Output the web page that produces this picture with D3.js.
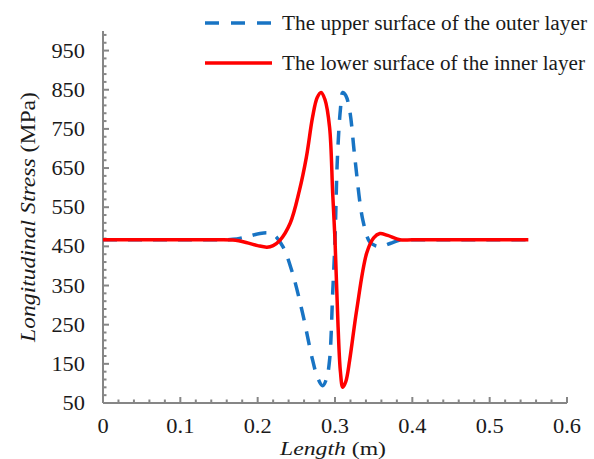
<!DOCTYPE html>
<html>
<head>
<meta charset="utf-8">
<script src="https://cdn.jsdelivr.net/npm/d3@7"></script>
<style>
  body { margin: 0; background: #fff; }
  svg { display: block; font-family: "Liberation Serif", "Times New Roman", serif; }
</style>
</head>
<body>
<div id="graph"></div>
<script>
// Length positions (m) and stress values (MPa)
const outerX = [0, 0.05, 0.10, 0.15, 0.168, 0.185, 0.203, 0.215, 0.222, 0.233, 0.245, 0.258, 0.271, 0.278, 0.284, 0.289, 0.293, 0.297, 0.300, 0.303, 0.307, 0.310, 0.314, 0.319, 0.326, 0.336, 0.345, 0.352, 0.360, 0.372, 0.384, 0.40, 0.45, 0.50, 0.55];
const outerY = [467, 467, 467, 467, 468, 474, 483, 484, 478, 448, 382, 280, 160, 112, 94, 112, 160, 330, 466, 670, 800, 843, 835, 797, 670, 517, 461, 452, 450, 458, 466, 467, 467, 467, 467];

const innerX = [0, 0.05, 0.10, 0.15, 0.168, 0.185, 0.200, 0.212, 0.220, 0.229, 0.242, 0.254, 0.263, 0.271, 0.277, 0.282, 0.287, 0.293, 0.297, 0.300, 0.304, 0.307, 0.310, 0.314, 0.319, 0.328, 0.341, 0.350, 0.358, 0.368, 0.384, 0.40, 0.45, 0.50, 0.55];
const innerY = [467, 467, 467, 467, 466, 460, 452, 448, 452, 466, 509, 593, 678, 780, 830, 843, 825, 754, 586, 466, 244, 130, 90, 105, 160, 287, 433, 472, 483, 478, 467, 467, 467, 467, 467];

const seriesNames = ["The upper surface of the outer layer", "The lower surface of the inner layer"];
const xTicks = [0, 0.1, 0.2, 0.3, 0.4, 0.5, 0.6];
const yTicks = [50, 150, 250, 350, 450, 550, 650, 750, 850, 950];

const W = 594, H = 459;
const axisColor = "#868686";
const textColor = "#1a1a1a";
const blue = "#1874c4", red = "#ff0000";
// text in the picture is a bit wider than the plain font
const stretch = 1.12;

const svg = d3.select("#graph").append("svg")
  .attr("width", W).attr("height", H);

const x = d3.scaleLinear().domain([0, 0.6]).range([103, 567]);
const y = d3.scaleLinear().domain([50, 1000]).range([403, 31]);

// widen a text node horizontally by setting its textLength
function widen(sel, len) {
  sel.each(function() {
    const l = len || this.getComputedTextLength() * stretch;
    d3.select(this).attr("textLength", l).attr("lengthAdjust", "spacingAndGlyphs");
  });
}

// Minor ticks (inside), x every 0.02, y every 20
const xMinor = d3.range(0, 0.6001, 0.02);
const yMinor = d3.range(50, 1000.1, 20);

const xAxis = svg.append("g")
  .attr("transform", "translate(0," + y(50) + ")");
xAxis.append("line")
  .attr("x1", x(0)).attr("x2", x(0.6))
  .attr("stroke", axisColor).attr("stroke-width", 2);
xAxis.selectAll(".xminor").data(xMinor).enter().append("line")
  .attr("x1", d => x(d)).attr("x2", d => x(d))
  .attr("y1", 0).attr("y2", d => (Math.abs(d * 10 - Math.round(d * 10)) < 1e-6) ? -6 : -3.5)
  .attr("stroke", axisColor).attr("stroke-width", 2);
xAxis.selectAll(".xlab").data(xTicks).enter().append("text")
  .attr("x", d => x(d)).attr("y", 30)
  .attr("text-anchor", "middle")
  .attr("font-size", 20).attr("fill", textColor)
  .text(d => d3.format("")(d))
  .call(widen);

const yAxis = svg.append("g")
  .attr("transform", "translate(" + x(0) + ",0)");
yAxis.append("line")
  .attr("y1", y(50)).attr("y2", y(1000))
  .attr("stroke", axisColor).attr("stroke-width", 2);
yAxis.selectAll(".yminor").data(yMinor).enter().append("line")
  .attr("y1", d => y(d)).attr("y2", d => y(d))
  .attr("x1", 0).attr("x2", d => ((d - 50) % 100 === 0) ? 6 : 3.5)
  .attr("stroke", axisColor).attr("stroke-width", 2);
yAxis.selectAll(".ylab").data(yTicks).enter().append("text")
  .attr("x", -18).attr("y", d => y(d))
  .attr("dy", "0.35em")
  .attr("text-anchor", "end")
  .attr("font-size", 20).attr("fill", textColor)
  .text(d => d)
  .call(widen);

// Axis titles
const xTitle = svg.append("text")
  .attr("x", 333).attr("y", 455)
  .attr("text-anchor", "middle")
  .attr("font-size", 18).attr("fill", textColor);
xTitle.append("tspan").attr("font-style", "italic").text("Length");
xTitle.append("tspan").text(" (m)");
widen(xTitle, 106);

const yTitle = svg.append("text")
  .attr("transform", "translate(35,217)rotate(-90)")
  .attr("text-anchor", "middle")
  .attr("font-size", 20).attr("fill", textColor);
yTitle.append("tspan").attr("font-style", "italic").text("Longitudinal Stress");
yTitle.append("tspan").text(" (MPa)");
widen(yTitle, 250);

// Curves
const line = d3.line()
  .x(d => x(d[0]))
  .y(d => y(d[1]))
  .curve(d3.curveCatmullRom.alpha(0.5));

svg.append("path")
  .datum(outerX.map((v, i) => [v, outerY[i]]))
  .attr("d", line)
  .attr("fill", "none")
  .attr("stroke", blue).attr("stroke-width", 3.5)
  .attr("stroke-dasharray", "14,11");

svg.append("path")
  .datum(innerX.map((v, i) => [v, innerY[i]]))
  .attr("d", line)
  .attr("fill", "none")
  .attr("stroke", red).attr("stroke-width", 3.5);

// Legend
const legend = svg.append("g");
const legendLen = [305, 303];
[blue, red].forEach((c, i) => {
  const ly = 23 + i * 40;
  legend.append("line")
    .attr("x1", 205).attr("x2", 272)
    .attr("y1", ly).attr("y2", ly)
    .attr("stroke", c).attr("stroke-width", 3.5)
    .attr("stroke-dasharray", i === 0 ? "14,12" : null);
  legend.append("text")
    .attr("x", 282).attr("y", ly)
    .attr("dy", "0.35em")
    .attr("font-size", 20).attr("fill", textColor)
    .text(seriesNames[i])
    .call(widen, legendLen[i]);
});
</script>
</body>
</html>
